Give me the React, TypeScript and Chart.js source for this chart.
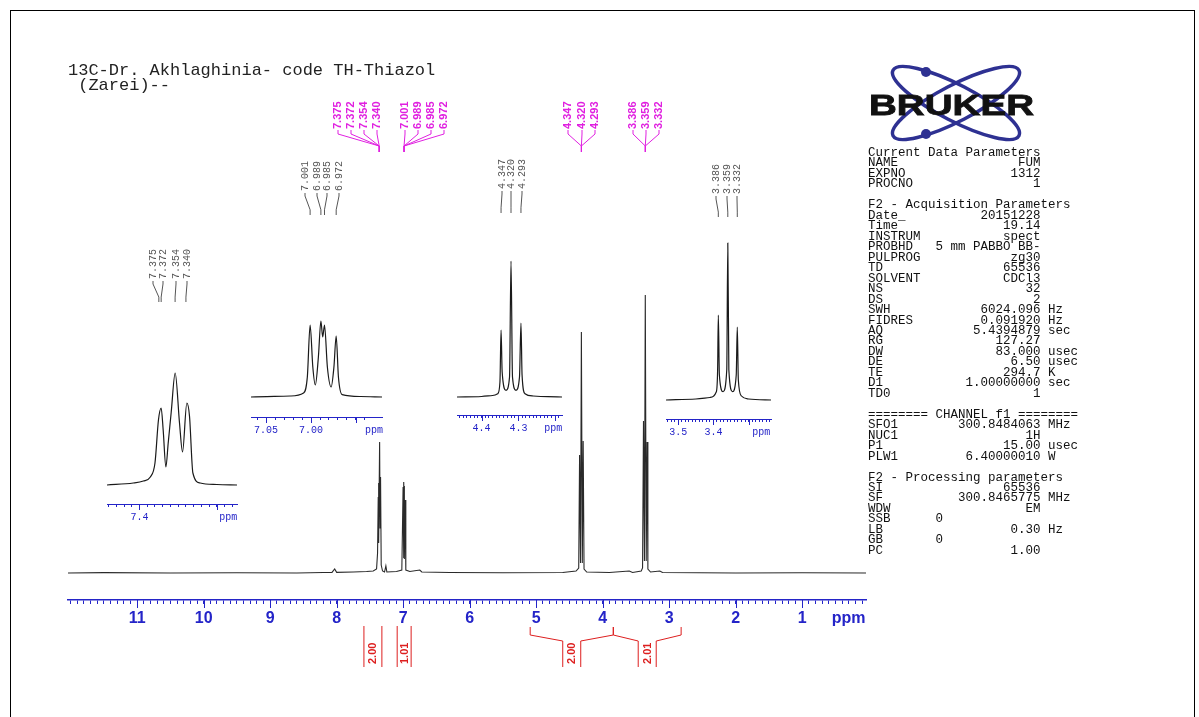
import React, { useEffect, useRef } from 'react';
import { Chart, registerables } from 'chart.js';

Chart.register(...registerables);

// ---------------- DATA ----------------
const TITLE_LINES = ['13C-Dr. Akhlaghinia- code TH-Thiazol', ' (Zarei)--'];

// main spectrum (ppm, relative intensity)
const MAIN_PPM = [12.04, 11.5, 10.5, 9.5, 8.6, 8.2, 8.07, 8.03, 8.0, 7.75, 7.55, 7.45, 7.4, 7.385, 7.375, 7.372, 7.365, 7.354, 7.347, 7.34, 7.33, 7.31, 7.28, 7.26, 7.245, 7.1, 7.02, 7.001, 6.994, 6.989, 6.987, 6.985, 6.979, 6.972, 6.96, 6.9, 6.75, 6.72, 6.3, 5.5, 4.6, 4.4, 4.36, 4.347, 4.333, 4.32, 4.306, 4.293, 4.28, 4.24, 3.9, 3.6, 3.55, 3.42, 3.4, 3.386, 3.372, 3.359, 3.345, 3.332, 3.32, 3.28, 3.14, 3.1, 2.0, 1.0, 0.04];
const MAIN_INT = [0, 0.4, 0, 0.3, 0, 0.5, 0.6, 4, 0.6, 1, 1.5, 2, 4, 20, 76, 90, 30, 131, 45, 96, 8, 2, 1, 7, 1, 1.5, 3, 86, 15, 91, 70, 87, 14, 73, 3, 1.5, 3, 1, 0.5, 0.3, 0.5, 2, 5, 118, 10, 241, 10, 132, 4, 1, 0.5, 2, 0.5, 2, 5, 152, 12, 278, 12, 131, 4, 1, 2, 0.5, 0, 0.2, 0];

const MAJOR_TICKS = [11, 10, 9, 8, 7, 6, 5, 4, 3, 2, 1];
const TICK_LABELS = ['11', '10', '9', '8', '7', '6', '5', '4', '3', '2', '1'];
const AXIS_UNIT = 'ppm';

const PEAK_GROUPS = [
  ['7.375', '7.372', '7.354', '7.340'],
  ['7.001', '6.989', '6.985', '6.972'],
  ['4.347', '4.320', '4.293'],
  ['3.386', '3.359', '3.332'],
];

const INTEGRAL_VALUES = ['2.00', '1.01', '2.00', '2.01'];
const INTEGRAL_FROM = [7.59, 7.09, 5.09, 3.84];
const INTEGRAL_TO = [7.32, 6.88, 3.84, 2.82];

// expansions
const INSET_A_PPM = [7.442, 7.408, 7.395, 7.386, 7.38, 7.3755, 7.372, 7.3694, 7.3659, 7.3629, 7.359, 7.3539, 7.3483, 7.3444, 7.3388, 7.3354, 7.331, 7.3216, 7.3, 7.274];
const INSET_A_INT = [0, 2, 4, 8, 22, 65, 77, 55, 18, 42, 73, 112, 62, 33, 82, 69, 12, 2, 0.5, 0];
const INSET_A_TICKS = [7.4, 7.3];
const INSET_A_TICK_LABELS = ['7.4', ''];

const INSET_B_PPM = [7.0668, 7.0232, 7.0083, 7.0041, 7.001, 6.998, 6.9952, 6.9918, 6.989, 6.987, 6.985, 6.9818, 6.9776, 6.9745, 6.972, 6.9695, 6.9653, 6.945, 6.921];
const INSET_B_INT = [0, 1, 4, 20, 72, 30, 12, 40, 76, 60, 72, 30, 10, 30, 61, 20, 2.3, 0.5, 0];
const INSET_B_TICKS = [7.05, 7.0, 6.95];
const INSET_B_TICK_LABELS = ['7.05', '7.00', ''];

const INSET_C_PPM = [4.4665, 4.4, 4.37, 4.356, 4.35, 4.347, 4.344, 4.3335, 4.324, 4.32, 4.316, 4.3065, 4.297, 4.293, 4.29, 4.282, 4.26, 4.22, 4.1817];
const INSET_C_INT = [0, 0.5, 1.5, 3.3, 15, 67, 25, 6.7, 20, 136, 20, 6.7, 20, 74, 22, 3.3, 1, 0.3, 0];
const INSET_C_TICKS = [4.4, 4.3, 4.2];
const INSET_C_TICK_LABELS = ['4.4', '4.3', ''];

const INSET_D_PPM = [3.535, 3.45, 3.41, 3.392, 3.388, 3.386, 3.383, 3.3725, 3.362, 3.359, 3.356, 3.3455, 3.335, 3.332, 3.329, 3.32, 3.3, 3.236];
const INSET_D_INT = [0, 1, 2.5, 8, 30, 85, 25, 8.3, 30, 157, 30, 8.3, 25, 73, 20, 4, 1, 0];
const INSET_D_TICKS = [3.5, 3.4, 3.3];
const INSET_D_TICK_LABELS = ['3.5', '3.4', ''];

// acquisition / processing parameters
const CURRENT_NAMES = ['NAME', 'EXPNO', 'PROCNO'];
const CURRENT_VALUES = ['FUM', '1312', '1'];
const ACQ_NAMES = ['Date_', 'Time', 'INSTRUM', 'PROBHD', 'PULPROG', 'TD', 'SOLVENT', 'NS', 'DS', 'SWH', 'FIDRES', 'AQ', 'RG', 'DW', 'DE', 'TE', 'D1', 'TD0'];
const ACQ_VALUES = ['20151228', '19.14', 'spect', '5 mm PABBO BB-', 'zg30', '65536', 'CDCl3', '32', '2', '6024.096', '0.091920', '5.4394879', '127.27', '83.000', '6.50', '294.7', '1.00000000', '1'];
const ACQ_UNITS = ['', '', '', '', '', '', '', '', '', 'Hz', 'Hz', 'sec', '', 'usec', 'usec', 'K', 'sec', ''];
const CH_NAMES = ['SFO1', 'NUC1', 'P1', 'PLW1'];
const CH_VALUES = ['300.8484063', '1H', '15.00', '6.40000010'];
const CH_UNITS = ['MHz', '', 'usec', 'W'];
const PROC_NAMES = ['SI', 'SF', 'WDW', 'SSB', 'LB', 'GB', 'PC'];
const PROC_VALUES = ['65536', '300.8465775', 'EM', '0', '0.30', '0', '1.00'];
const PROC_UNITS = ['', 'MHz', '', '', 'Hz', '', ''];
const PROC_LEFT = [false, false, false, true, false, true, false];

// ---------------- STYLE / LAYOUT ----------------
const BLUE = '#2424c8';
const MAGENTA = '#e020e0';
const RED = '#dd1f1f';
const FONT_SANS = "'Liberation Sans', Arial, Helvetica, sans-serif";
const FONT_MONO = "'Liberation Mono', 'Courier New', monospace";

const MAIN_LABEL_X = [[338, 351, 364, 377], [405, 418, 431, 444], [568, 582, 595], [633, 646, 659]];

const INSETS = [
  { ppm: INSET_A_PPM, int: INSET_A_INT, ticks: INSET_A_TICKS, tickLabels: INSET_A_TICK_LABELS, min: 7.274, max: 7.442, unitAt: 7.2854,
    left: 107, right: 237, axisY: 504, baseY: 485, top: 240, chartTop: 305, labels: PEAK_GROUPS[0], labelX: [153, 163, 176, 187], labelBottom: 279, leaderEnd: 302 },
  { ppm: INSET_B_PPM, int: INSET_B_INT, ticks: INSET_B_TICKS, tickLabels: INSET_B_TICK_LABELS, min: 6.921, max: 7.0668, unitAt: 6.930,
    left: 251, right: 382, axisY: 417, baseY: 397, top: 150, chartTop: 220, labels: PEAK_GROUPS[1], labelX: [305, 317, 327, 339], labelBottom: 191, leaderEnd: 215 },
  { ppm: INSET_C_PPM, int: INSET_C_INT, ticks: INSET_C_TICKS, tickLabels: INSET_C_TICK_LABELS, min: 4.1817, max: 4.4665, unitAt: 4.2057,
    left: 457, right: 562, axisY: 415, baseY: 397, top: 150, chartTop: 220, labels: PEAK_GROUPS[2], labelX: [502, 511, 522], labelBottom: 189, leaderEnd: 213 },
  { ppm: INSET_D_PPM, int: INSET_D_INT, ticks: INSET_D_TICKS, tickLabels: INSET_D_TICK_LABELS, min: 3.236, max: 3.535, unitAt: 3.2637,
    left: 666, right: 771, axisY: 419, baseY: 400, top: 150, chartTop: 225, labels: PEAK_GROUPS[3], labelX: [716, 727, 737], labelBottom: 194, leaderEnd: 217 },
];

const near = (a: number, b: number) => Math.abs(a - b) < 1e-6;

function stepTicks(min: number, max: number, step: number, extra: number[]) {
  const out: number[] = [];
  for (let k = Math.ceil(min / step - 1e-9); k <= Math.floor(max / step + 1e-9); k++) {
    out.push(Math.round(k * step * 10000) / 10000);
  }
  extra.forEach((e) => { if (!out.some((v) => near(v, e))) out.push(e); });
  return out.sort((a, b) => a - b);
}

function line(ctx: CanvasRenderingContext2D, pts: number[][]) {
  ctx.beginPath();
  pts.forEach((p, i) => (i ? ctx.lineTo(p[0], p[1]) : ctx.moveTo(p[0], p[1])));
  ctx.stroke();
}

function vText(ctx: CanvasRenderingContext2D, text: string, x: number, y: number) {
  ctx.save();
  ctx.translate(x, y);
  ctx.rotate(-Math.PI / 2);
  ctx.textAlign = 'left';
  ctx.textBaseline = 'middle';
  ctx.fillText(text, 0, 0);
  ctx.restore();
}

const mainDecor = {
  id: 'mainDecor',
  afterDraw(chart: any) {
    const ctx: CanvasRenderingContext2D = chart.ctx;
    const xs = chart.scales.x;
    const axisY = chart.chartArea.bottom;
    ctx.save();
    // major ticks
    ctx.strokeStyle = BLUE;
    ctx.lineWidth = 1;
    MAJOR_TICKS.forEach((v) => {
      const px = Math.round(xs.getPixelForValue(v)) + 0.5;
      line(ctx, [[px, axisY], [px, axisY + 8]]);
    });
    // peak labels
    ctx.fillStyle = MAGENTA;
    ctx.strokeStyle = MAGENTA;
    ctx.font = `bold 11px ${FONT_SANS}`;
    PEAK_GROUPS.forEach((g, gi) => {
      const mean = g.reduce((s, t) => s + parseFloat(t), 0) / g.length;
      const cx = xs.getPixelForValue(mean);
      g.forEach((t, i) => {
        const lx = MAIN_LABEL_X[gi][i];
        vText(ctx, t, lx, 129);
        line(ctx, [[lx, 130], [lx, 134], [cx, 146], [cx, 152]]);
      });
    });
    // integrals
    ctx.strokeStyle = RED;
    ctx.fillStyle = RED;
    ctx.font = `bold 11px ${FONT_SANS}`;
    INTEGRAL_VALUES.forEach((val, i) => {
      const x1 = xs.getPixelForValue(INTEGRAL_FROM[i]);
      const x2 = xs.getPixelForValue(INTEGRAL_TO[i]);
      const c = (x1 + x2) / 2;
      if (x2 - x1 < 24) {
        line(ctx, [[x1, 626], [x1, 667]]);
        line(ctx, [[x2, 626], [x2, 667]]);
      } else {
        line(ctx, [[x1, 627], [x1, 635], [c - 9, 641], [c - 9, 667]]);
        line(ctx, [[x2, 627], [x2, 635], [c + 9, 641], [c + 9, 667]]);
      }
      vText(ctx, val, c + 0.5, 664);
    });
    ctx.restore();
  },
};

function mainConfig(): any {
  return {
    type: 'line',
    data: {
      datasets: [{
        data: MAIN_PPM.map((p, i) => ({ x: p, y: MAIN_INT[i] })),
        borderColor: '#2a2a2a',
        borderWidth: 1.1,
        pointRadius: 0,
        tension: 0,
        fill: false,
      }],
    },
    options: {
      responsive: false,
      animation: false,
      events: [],
      layout: { autoPadding: false, padding: { left: 68, right: 333, top: 160, bottom: 87 } },
      plugins: { legend: { display: false }, tooltip: { enabled: false } },
      scales: {
        x: {
          type: 'linear',
          min: 0.04,
          max: 12.04,
          reverse: true,
          afterBuildTicks: (s: any) => { s.ticks = stepTicks(0.04, 12.04, 0.1, []).map((v) => ({ value: v })); },
          afterFit: (s: any) => { s.height = 30; },
          ticks: {
            autoSkip: false,
            maxRotation: 0,
            minRotation: 0,
            padding: 5,
            color: BLUE,
            font: { family: FONT_SANS, size: 16, weight: 'bold' },
            callback: (v: number) => {
              const i = MAJOR_TICKS.findIndex((m) => near(m, v));
              if (i >= 0) return TICK_LABELS[i];
              if (near(v, 0.3)) return AXIS_UNIT;
              return '';
            },
          },
          grid: { drawOnChartArea: false, drawTicks: true, tickLength: 4, tickColor: BLUE, tickWidth: 1 },
          border: { display: true, color: BLUE, width: 1.5 },
        },
        y: { display: false, min: -27, max: 413 },
      },
    },
    plugins: [mainDecor],
  };
}

function insetConfig(c: any): any {
  const canvasLeft = c.left - 10;
  const decor = {
    id: 'insetDecor',
    afterDraw(chart: any) {
      const ctx: CanvasRenderingContext2D = chart.ctx;
      const xs = chart.scales.x;
      const axisY = chart.chartArea.bottom;
      ctx.save();
      ctx.strokeStyle = BLUE;
      ctx.lineWidth = 1;
      c.ticks.forEach((v: number) => {
        const px = Math.round(xs.getPixelForValue(v)) + 0.5;
        line(ctx, [[px, axisY], [px, axisY + 6]]);
      });
      ctx.fillStyle = '#555';
      ctx.strokeStyle = '#555';
      ctx.font = `10px ${FONT_MONO}`;
      const lb = c.labelBottom - c.top;
      const le = c.leaderEnd - c.top;
      c.labels.forEach((t: string, i: number) => {
        const lx = c.labelX[i] - canvasLeft;
        const px = xs.getPixelForValue(parseFloat(t));
        vText(ctx, t, lx, lb);
        line(ctx, [[lx, lb + 2], [lx, lb + 5], [px, lb + 2 + (le - lb) * 0.7], [px, le]]);
      });
      ctx.restore();
    },
  };
  return {
    type: 'line',
    data: {
      datasets: [{
        data: c.ppm.map((p: number, i: number) => ({ x: p, y: c.int[i] })),
        borderColor: '#1a1a1a',
        borderWidth: 1.2,
        pointRadius: 0,
        cubicInterpolationMode: 'monotone',
        fill: false,
      }],
    },
    options: {
      responsive: false,
      animation: false,
      events: [],
      layout: { autoPadding: false, padding: { left: 10, right: 10, top: c.chartTop - c.top, bottom: 12 } },
      plugins: { legend: { display: false }, tooltip: { enabled: false } },
      scales: {
        x: {
          type: 'linear',
          min: c.min,
          max: c.max,
          reverse: true,
          afterBuildTicks: (s: any) => { s.ticks = stepTicks(c.min, c.max, 0.01, [c.unitAt]).map((v) => ({ value: v })); },
          afterFit: (s: any) => { s.height = 18; },
          ticks: {
            autoSkip: false,
            maxRotation: 0,
            minRotation: 0,
            padding: 4,
            color: BLUE,
            font: { family: FONT_MONO, size: 10 },
            callback: (v: number) => {
              const i = c.ticks.findIndex((m: number) => near(m, v));
              if (i >= 0) return c.tickLabels[i];
              if (near(v, c.unitAt)) return AXIS_UNIT;
              return '';
            },
          },
          grid: {
            drawOnChartArea: false,
            drawTicks: true,
            tickLength: 3,
            tickWidth: 1,
            tickColor: (ctx: any) => (ctx.tick && near(ctx.tick.value, c.unitAt) ? 'rgba(0,0,0,0)' : BLUE),
          },
          border: { display: true, color: BLUE, width: 1 },
        },
        y: { display: false, min: c.baseY - c.axisY, max: c.baseY - c.chartTop },
      },
    },
    plugins: [decor],
  };
}

function ChartCanvas({ make, left, top, width, height }: any) {
  const ref = useRef<HTMLCanvasElement>(null);
  useEffect(() => {
    const chart = new Chart(ref.current as HTMLCanvasElement, make());
    return () => chart.destroy();
  }, []);
  return (
    <canvas
      ref={ref}
      width={width}
      height={height}
      style={{ position: 'absolute', left, top, width, height }}
    />
  );
}

function fmt(name: string, value: string, unit: string, leftAligned = false) {
  if (leftAligned) return name.padEnd(9) + value;
  return name.padEnd(23 - value.length) + value + (unit ? ' ' + unit : '');
}

function paramText() {
  const lines: string[] = [];
  lines.push('Current Data Parameters');
  CURRENT_NAMES.forEach((n, i) => lines.push(fmt(n, CURRENT_VALUES[i], '')));
  lines.push('');
  lines.push('F2 - Acquisition Parameters');
  ACQ_NAMES.forEach((n, i) => lines.push(fmt(n, ACQ_VALUES[i], ACQ_UNITS[i])));
  lines.push('');
  lines.push('======== CHANNEL f1 ========');
  CH_NAMES.forEach((n, i) => lines.push(fmt(n, CH_VALUES[i], CH_UNITS[i])));
  lines.push('');
  lines.push('F2 - Processing parameters');
  PROC_NAMES.forEach((n, i) => lines.push(fmt(n, PROC_VALUES[i], PROC_UNITS[i], PROC_LEFT[i])));
  return lines.join('\n');
}

function Logo() {
  return (
    <svg width={190} height={85} style={{ position: 'absolute', left: 860, top: 60 }}>
      <ellipse cx={96} cy={43} rx={71} ry={18} fill="none" stroke="#2e3192" strokeWidth={3.5} transform="rotate(27.5 96 43)" />
      <ellipse cx={96} cy={43} rx={71} ry={18} fill="none" stroke="#2e3192" strokeWidth={3.5} transform="rotate(-27.5 96 43)" />
      <circle cx={66} cy={12} r={5} fill="#2e3192" />
      <circle cx={66} cy={74} r={5} fill="#2e3192" />
      <text x={9} y={55} fontFamily={FONT_SANS} fontWeight={900} fontSize={29} fill="#111" stroke="#111" strokeWidth={0.8} textLength={165} lengthAdjust="spacingAndGlyphs">BRUKER</text>
    </svg>
  );
}

export default function App() {
  return (
    <div style={{ position: 'absolute', left: 0, top: 0, width: 1199, height: 717, overflow: 'hidden', background: '#fff' }}>
      <div style={{ position: 'absolute', left: 10, top: 10, width: 1183, height: 730, borderTop: '1px solid #000', borderLeft: '1px solid #000', borderRight: '1px solid #000' }} />
      <ChartCanvas make={mainConfig} left={0} top={0} width={1199} height={717} />
      {INSETS.map((c, i) => (
        <ChartCanvas
          key={i}
          make={() => insetConfig(c)}
          left={c.left - 10}
          top={c.top}
          width={c.right - c.left + 20}
          height={c.axisY - c.top + 30}
        />
      ))}
      <pre style={{ position: 'absolute', left: 68, top: 63, margin: 0, fontFamily: FONT_MONO, fontSize: 17, lineHeight: '15px', color: '#222' }}>
        {TITLE_LINES.join('\n')}
      </pre>
      <Logo />
      <pre style={{ position: 'absolute', left: 868, top: 148, margin: 0, fontFamily: FONT_MONO, fontSize: 12.5, lineHeight: '10.47px', color: '#111' }}>
        {paramText()}
      </pre>
    </div>
  );
}
